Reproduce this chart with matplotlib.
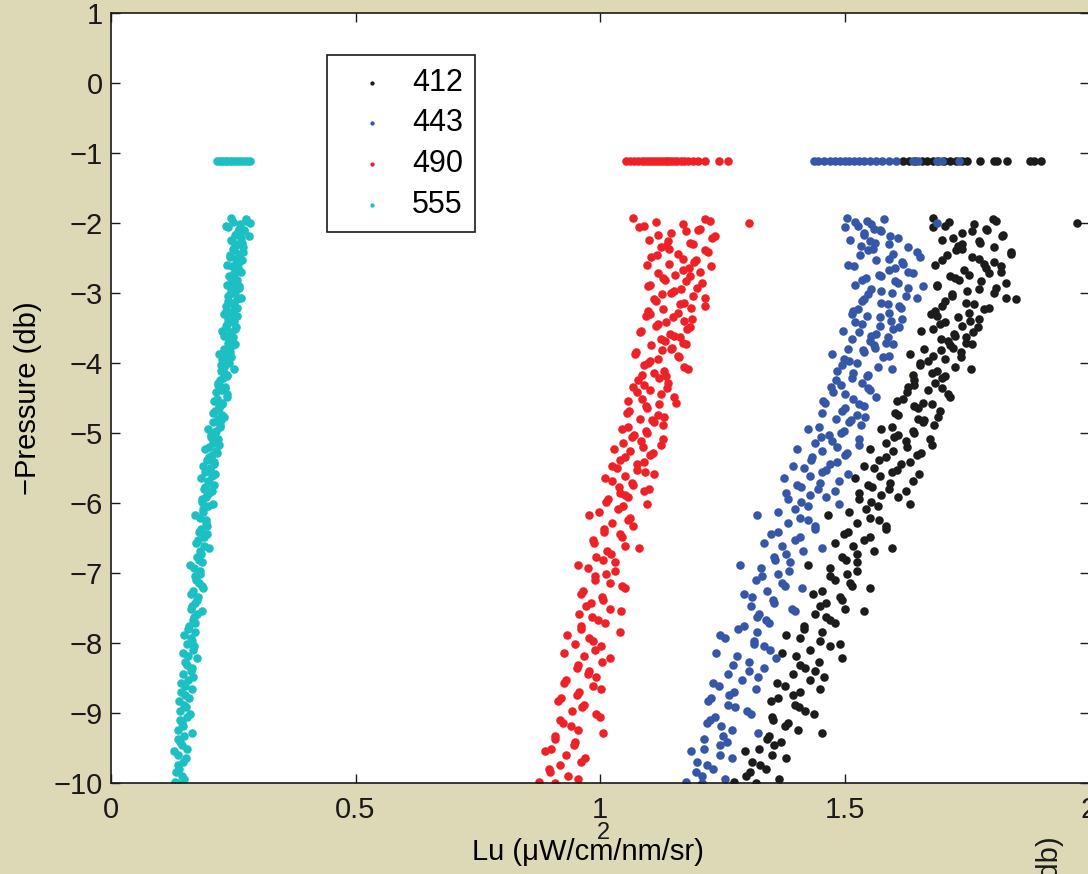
import matplotlib
matplotlib.use("Agg")
import matplotlib.pyplot as plt

plt.rcParams["font.family"] = ["Liberation Sans", "DejaVu Sans"]

# depths of the first profile pass (db, plotted as -pressure)
depth_a = [
    -1.93, -1.97, -2.00, -2.04, -2.08, -2.12, -2.17, -2.21, -2.26, -2.30,
    -2.35, -2.39, -2.44, -2.49, -2.53, -2.58, -2.62, -2.67, -2.72, -2.76,
    -2.81, -2.86, -2.90, -2.95, -3.00, -3.04, -3.09, -3.14, -3.18, -3.23,
    -3.28, -3.33, -3.37, -3.42, -3.47, -3.52, -3.56, -3.61, -3.66, -3.71,
    -3.75, -3.80, -3.85, -3.90, -3.95, -4.00, -4.06, -4.11, -4.17, -4.22,
    -4.28, -4.34, -4.39, -4.45, -4.51, -4.57, -4.62, -4.68, -4.74, -4.80,
    -4.85, -4.91, -4.97, -5.03, -5.09, -5.14, -5.20, -5.26, -5.32, -5.38,
    -5.44, -5.50, -5.56, -5.62, -5.68, -5.74, -5.80, -5.86, -5.92, -5.98,
    -6.05, -6.13, -6.21, -6.29, -6.37, -6.45, -6.53, -6.61, -6.69, -6.77,
    -6.85, -6.93, -7.01, -7.10, -7.18, -7.26, -7.34, -7.43, -7.51, -7.59,
    -7.67, -7.76, -7.84, -7.93, -8.01, -8.10, -8.18, -8.27, -8.36, -8.44,
    -8.53, -8.62, -8.70, -8.79, -8.88, -8.97, -9.06, -9.15, -9.24, -9.33,
    -9.42, -9.51, -9.60, -9.70, -9.80, -9.90, -9.98,
]
# depths of the second pass
depth_b = [
    -1.95, -1.99, -2.02, -2.06, -2.10, -2.15, -2.19, -2.24, -2.28, -2.33,
    -2.37, -2.42, -2.46, -2.51, -2.56, -2.60, -2.65, -2.70, -2.74, -2.79,
    -2.83, -2.88, -2.93, -2.97, -3.02, -3.07, -3.11, -3.16, -3.21, -3.26,
    -3.30, -3.35, -3.40, -3.44, -3.49, -3.54, -3.59, -3.63, -3.68, -3.73,
    -3.78, -3.82, -3.87, -3.92, -3.97, -4.03, -4.08, -4.14, -4.19, -4.25,
    -4.31, -4.36, -4.42, -4.48, -4.54, -4.59, -4.65, -4.71, -4.77, -4.82,
    -4.88, -4.94, -5.00, -5.06, -5.11, -5.17, -5.23, -5.29, -5.35, -5.41,
    -5.47, -5.53, -5.59, -5.65, -5.71, -5.77, -5.83, -5.89, -5.95, -6.01,
    -6.09, -6.17, -6.25, -6.33, -6.41, -6.49, -6.57, -6.65, -6.73, -6.81,
    -6.89, -6.97, -7.05, -7.14, -7.22, -7.30, -7.38, -7.47, -7.55, -7.63,
    -7.71, -7.80, -7.88, -7.97, -8.05, -8.14, -8.22, -8.31, -8.40, -8.48,
    -8.57, -8.66, -8.74, -8.83, -8.92, -9.01, -9.10, -9.19, -9.28, -9.37,
    -9.46, -9.55, -9.65, -9.75, -9.85, -9.94, -10.0,
]

lu_412_a = [
    1.680, 1.810, 1.975, 1.705, 1.790, 1.760, 1.825, 1.722, 1.775, 1.740,
    1.805, 1.728, 1.840, 1.760, 1.700, 1.785, 1.820, 1.745, 1.795, 1.715,
    1.735, 1.830, 1.690, 1.775, 1.805, 1.720, 1.850, 1.748, 1.700, 1.785,
    1.755, 1.690, 1.775, 1.705, 1.740, 1.680, 1.762, 1.725, 1.698, 1.748,
    1.715, 1.662, 1.738, 1.680, 1.705, 1.655, 1.725, 1.690, 1.640, 1.700,
    1.685, 1.630, 1.670, 1.712, 1.620, 1.660, 1.642, 1.695, 1.610, 1.650,
    1.660, 1.598, 1.640, 1.610, 1.675, 1.585, 1.628, 1.600, 1.648, 1.570,
    1.615, 1.560, 1.598, 1.572, 1.640, 1.548, 1.590, 1.530, 1.610, 1.555,
    1.568, 1.510, 1.552, 1.525, 1.585, 1.498, 1.540, 1.518, 1.560, 1.495,
    1.525, 1.470, 1.505, 1.480, 1.515, 1.455, 1.490, 1.462, 1.500, 1.440,
    1.470, 1.418, 1.455, 1.410, 1.490, 1.430, 1.400, 1.448, 1.420, 1.395,
    1.430, 1.378, 1.410, 1.365, 1.398, 1.420, 1.352, 1.385, 1.405, 1.345,
    1.370, 1.325, 1.352, 1.310, 1.340, 1.298, 1.275,
]
lu_412_b = [
    1.804, 1.714, 1.764, 1.682, 1.791, 1.741, 1.822, 1.700, 1.777, 1.732,
    1.740, 1.840, 1.710, 1.775, 1.805, 1.685, 1.790, 1.820, 1.755, 1.725,
    1.780, 1.690, 1.810, 1.750, 1.720, 1.830, 1.705, 1.765, 1.795, 1.685,
    1.676, 1.732, 1.756, 1.696, 1.772, 1.656, 1.724, 1.748, 1.712, 1.760,
    1.722, 1.698, 1.634, 1.738, 1.670, 1.654, 1.758, 1.678, 1.706, 1.642,
    1.643, 1.699, 1.627, 1.715, 1.607, 1.679, 1.651, 1.603, 1.691, 1.663,
    1.683, 1.575, 1.643, 1.602, 1.625, 1.679, 1.552, 1.656, 1.584, 1.634,
    1.539, 1.607, 1.652, 1.521, 1.594, 1.557, 1.625, 1.575, 1.530, 1.634,
    1.544, 1.467, 1.571, 1.585, 1.508, 1.553, 1.481, 1.598, 1.526, 1.503,
    1.426, 1.526, 1.471, 1.512, 1.553, 1.435, 1.494, 1.449, 1.539, 1.462,
    1.480, 1.417, 1.381, 1.449, 1.471, 1.372, 1.494, 1.408, 1.440, 1.458,
    1.362, 1.450, 1.394, 1.350, 1.406, 1.438, 1.354, 1.378, 1.454, 1.342,
    1.356, 1.297, 1.380, 1.328, 1.307, 1.366, 1.318,
]

lu_443_a = [
    1.506, 1.545, 1.690, 1.528, 1.560, 1.575, 1.540, 1.610, 1.552, 1.590,
    1.630, 1.548, 1.600, 1.655, 1.565, 1.620, 1.520, 1.590, 1.640, 1.575,
    1.535, 1.610, 1.660, 1.555, 1.598, 1.625, 1.540, 1.575, 1.612, 1.528,
    1.590, 1.545, 1.618, 1.522, 1.572, 1.600, 1.530, 1.555, 1.515, 1.585,
    1.560, 1.508, 1.540, 1.592, 1.498, 1.525, 1.568, 1.485, 1.548, 1.515,
    1.535, 1.472, 1.552, 1.500, 1.518, 1.460, 1.540, 1.495, 1.525, 1.482,
    1.510, 1.448, 1.498, 1.468, 1.530, 1.440, 1.485, 1.455, 1.502, 1.432,
    1.470, 1.418, 1.455, 1.430, 1.488, 1.402, 1.445, 1.380, 1.462, 1.412,
    1.425, 1.365, 1.408, 1.385, 1.440, 1.350, 1.398, 1.372, 1.415, 1.355,
    1.388, 1.330, 1.365, 1.318, 1.378, 1.342, 1.310, 1.355, 1.392, 1.325,
    1.340, 1.295, 1.322, 1.255, 1.315, 1.348, 1.280, 1.305, 1.335, 1.262,
    1.290, 1.243, 1.275, 1.228, 1.262, 1.300, 1.236, 1.218, 1.270, 1.252,
    1.260, 1.212, 1.245, 1.198, 1.232, 1.208, 1.176,
]
lu_443_b = [
    1.581, 1.521, 1.554, 1.500, 1.572, 1.539, 1.593, 1.512, 1.563, 1.533,
    1.558, 1.648, 1.531, 1.590, 1.617, 1.508, 1.603, 1.630, 1.571, 1.544,
    1.603, 1.521, 1.630, 1.575, 1.548, 1.648, 1.535, 1.589, 1.616, 1.517,
    1.516, 1.572, 1.596, 1.536, 1.612, 1.496, 1.564, 1.588, 1.552, 1.600,
    1.562, 1.538, 1.474, 1.578, 1.510, 1.494, 1.598, 1.518, 1.546, 1.482,
    1.493, 1.549, 1.477, 1.565, 1.457, 1.529, 1.501, 1.453, 1.541, 1.513,
    1.533, 1.425, 1.493, 1.452, 1.475, 1.529, 1.402, 1.506, 1.434, 1.484,
    1.394, 1.462, 1.507, 1.376, 1.449, 1.412, 1.480, 1.430, 1.385, 1.489,
    1.399, 1.322, 1.426, 1.440, 1.363, 1.408, 1.336, 1.453, 1.381, 1.358,
    1.286, 1.386, 1.331, 1.372, 1.413, 1.295, 1.354, 1.309, 1.399, 1.322,
    1.345, 1.282, 1.246, 1.314, 1.336, 1.237, 1.359, 1.273, 1.305, 1.323,
    1.232, 1.320, 1.264, 1.220, 1.276, 1.308, 1.224, 1.248, 1.324, 1.212,
    1.246, 1.187, 1.270, 1.218, 1.197, 1.256, 1.208,
]

lu_490_a = [
    1.068, 1.225, 1.305, 1.090, 1.205, 1.175, 1.118, 1.230, 1.140, 1.190,
    1.125, 1.215, 1.160, 1.105, 1.196, 1.142, 1.228, 1.170, 1.118, 1.185,
    1.132, 1.208, 1.098, 1.165, 1.145, 1.190, 1.110, 1.172, 1.215, 1.128,
    1.160, 1.095, 1.188, 1.135, 1.115, 1.178, 1.082, 1.152, 1.125, 1.170,
    1.105, 1.145, 1.074, 1.160, 1.118, 1.098, 1.172, 1.130, 1.085, 1.120,
    1.140, 1.068, 1.102, 1.125, 1.085, 1.155, 1.094, 1.060, 1.118, 1.082,
    1.110, 1.058, 1.095, 1.070, 1.128, 1.048, 1.088, 1.062, 1.102, 1.040,
    1.075, 1.035, 1.092, 1.052, 1.025, 1.068, 1.100, 1.040, 1.058, 1.012,
    1.048, 0.998, 1.062, 1.025, 1.008, 1.040, 0.985, 1.052, 1.015, 0.992,
    1.030, 0.975, 1.012, 0.990, 1.045, 0.965, 1.005, 0.982, 1.020, 0.958,
    0.995, 0.962, 1.040, 0.978, 0.948, 0.990, 0.968, 1.005, 0.952, 0.975,
    0.930, 0.985, 0.958, 0.920, 0.968, 0.942, 1.000, 0.925, 0.955, 0.908,
    0.948, 0.900, 0.930, 0.962, 0.895, 0.935, 0.875,
]
lu_490_b = [
    1.215, 1.115, 1.170, 1.080, 1.200, 1.145, 1.235, 1.100, 1.185, 1.135,
    1.141, 1.221, 1.117, 1.169, 1.193, 1.097, 1.181, 1.205, 1.153, 1.129,
    1.175, 1.103, 1.199, 1.151, 1.127, 1.215, 1.115, 1.163, 1.187, 1.099,
    1.102, 1.150, 1.172, 1.119, 1.185, 1.084, 1.143, 1.164, 1.133, 1.175,
    1.148, 1.127, 1.071, 1.162, 1.103, 1.089, 1.180, 1.110, 1.134, 1.078,
    1.090, 1.138, 1.076, 1.152, 1.058, 1.121, 1.097, 1.055, 1.131, 1.107,
    1.129, 1.045, 1.097, 1.066, 1.083, 1.125, 1.028, 1.108, 1.052, 1.090,
    1.024, 1.076, 1.111, 1.010, 1.065, 1.038, 1.090, 1.052, 1.017, 1.097,
    1.037, 0.978, 1.058, 1.068, 1.009, 1.044, 0.988, 1.079, 1.023, 1.006,
    0.955, 1.031, 0.990, 1.021, 1.052, 0.962, 1.007, 0.972, 1.042, 0.983,
    1.010, 0.961, 0.933, 0.985, 1.003, 0.926, 1.020, 0.954, 0.978, 0.992,
    0.926, 1.002, 0.953, 0.915, 0.964, 0.992, 0.919, 0.940, 1.006, 0.908,
    0.946, 0.887, 0.970, 0.918, 0.897, 0.956, 0.908,
]

lu_555_a = [
    0.245, 0.277, 0.284, 0.236, 0.262, 0.271, 0.253, 0.266, 0.248, 0.259,
    0.270, 0.251, 0.262, 0.244, 0.267, 0.255, 0.248, 0.260, 0.252, 0.241,
    0.258, 0.249, 0.262, 0.245, 0.253, 0.240, 0.257, 0.248, 0.236, 0.252,
    0.245, 0.258, 0.240, 0.249, 0.236, 0.253, 0.244, 0.232, 0.247, 0.239,
    0.250, 0.231, 0.243, 0.236, 0.228, 0.241, 0.232, 0.224, 0.238, 0.229,
    0.219, 0.233, 0.225, 0.237, 0.216, 0.228, 0.221, 0.212, 0.226, 0.218,
    0.209, 0.222, 0.214, 0.205, 0.219, 0.210, 0.201, 0.214, 0.206, 0.197,
    0.210, 0.202, 0.193, 0.207, 0.198, 0.211, 0.190, 0.201, 0.194, 0.186,
    0.198, 0.189, 0.181, 0.194, 0.185, 0.197, 0.178, 0.190, 0.183, 0.175,
    0.187, 0.170, 0.181, 0.174, 0.186, 0.167, 0.178, 0.171, 0.163, 0.176,
    0.168, 0.159, 0.172, 0.163, 0.155, 0.168, 0.158, 0.151, 0.165, 0.147,
    0.158, 0.151, 0.143, 0.160, 0.149, 0.141, 0.155, 0.146, 0.138, 0.150,
    0.141, 0.156, 0.136, 0.147, 0.139, 0.145, 0.131,
]
lu_555_b = [
    0.277, 0.249, 0.264, 0.239, 0.273, 0.257, 0.282, 0.245, 0.268, 0.254,
    0.249, 0.269, 0.243, 0.256, 0.262, 0.238, 0.259, 0.265, 0.252, 0.246,
    0.255, 0.237, 0.261, 0.249, 0.243, 0.265, 0.240, 0.252, 0.258, 0.236,
    0.232, 0.246, 0.252, 0.237, 0.256, 0.227, 0.244, 0.250, 0.241, 0.253,
    0.242, 0.236, 0.220, 0.246, 0.229, 0.225, 0.251, 0.231, 0.238, 0.222,
    0.219, 0.233, 0.215, 0.237, 0.210, 0.228, 0.221, 0.209, 0.231, 0.224,
    0.222, 0.198, 0.213, 0.204, 0.209, 0.221, 0.193, 0.216, 0.200, 0.211,
    0.188, 0.203, 0.213, 0.184, 0.200, 0.192, 0.207, 0.196, 0.186, 0.209,
    0.188, 0.171, 0.194, 0.197, 0.180, 0.190, 0.174, 0.200, 0.184, 0.179,
    0.161, 0.183, 0.171, 0.180, 0.189, 0.163, 0.176, 0.166, 0.186, 0.169,
    0.172, 0.158, 0.150, 0.165, 0.170, 0.148, 0.175, 0.156, 0.163, 0.167,
    0.143, 0.165, 0.151, 0.140, 0.154, 0.162, 0.141, 0.147, 0.166, 0.138,
    0.146, 0.129, 0.153, 0.138, 0.132, 0.149, 0.135,
]

# near-surface samples, all at the same depth
surf_depth = -1.12
surf_412 = [1.620, 1.632, 1.645, 1.658, 1.668, 1.680, 1.692, 1.704, 1.715, 1.728,
            1.740, 1.750, 1.777, 1.806, 1.812, 1.832, 1.880, 1.888, 1.902]
surf_443 = [1.437, 1.446, 1.458, 1.470, 1.480, 1.490, 1.500, 1.510, 1.520, 1.530,
            1.540, 1.552, 1.564, 1.576, 1.590, 1.605, 1.640, 1.650, 1.690, 1.700, 1.735]
surf_490 = [1.053, 1.062, 1.070, 1.078, 1.085, 1.092, 1.098, 1.104, 1.110, 1.116,
            1.122, 1.128, 1.134, 1.140, 1.146, 1.152, 1.158, 1.165, 1.172, 1.180,
            1.190, 1.200, 1.215, 1.244, 1.262]
surf_555 = [0.216, 0.222, 0.228, 0.233, 0.238, 0.243, 0.248, 0.254, 0.259, 0.265,
            0.272, 0.279, 0.285]

series = [
    ("412", lu_412_a + lu_412_b, surf_412, "#1c1c1c"),
    ("443", lu_443_a + lu_443_b, surf_443, "#3656a8"),
    ("490", lu_490_a + lu_490_b, surf_490, "#ee2126"),
    ("555", lu_555_a + lu_555_b, surf_555, "#1cbfc2"),
]
depth = depth_a + depth_b

fig = plt.figure(figsize=(10.88, 8.74), dpi=100, facecolor="#ddd8b6")
ax = fig.add_axes([111 / 1088, 91 / 874, 978 / 1088, 770 / 874])
ax.set_facecolor("white")

for name, xs, sx, color in series:
    ax.scatter(xs, depth, s=38, color=color, linewidths=0, label=name)
    ax.scatter(sx, [surf_depth] * len(sx), s=38, color=color, linewidths=0)

ax.set_xlim(0, 2)
ax.set_ylim(-10, 1)
ax.set_xticks([0, 0.5, 1, 1.5, 2])
ax.set_xticklabels(["0", "0.5", "1", "1.5", "2"])
ax.set_yticks(range(-10, 2))
ax.set_yticklabels([("\u2212%d" % -v) if v < 0 else str(v) for v in range(-10, 2)])
ax.tick_params(direction="in", length=6.5, width=1, labelsize=21,
               top=True, right=True, colors="#1a1a1a")
ax.tick_params(axis="x", pad=9)
ax.tick_params(axis="y", pad=6)
for sp in ax.spines.values():
    sp.set_linewidth(1.2)
    sp.set_color("#1a1a1a")

ax.set_ylabel("\u2212Pressure (db)", fontsize=21, labelpad=8)
ax.set_xlabel("Lu (\u03bcW/cm/nm/sr)", fontsize=21)
ax.xaxis.set_label_coords(0.488, -0.071)
fig.text(603 / 1088, 1 - 833 / 874, "2", fontsize=17, ha="center", va="center",
         color="#1a1a1a")

# clipped label from neighbouring panel
fig.text(1050 / 1088, 1 - 836 / 874, "\u2212Pressure (db)", fontsize=21,
         rotation=90, ha="center", va="top", color="#1a1a1a")

leg = ax.legend(loc="upper left", bbox_to_anchor=(0.221, 0.945), borderaxespad=0,
                fontsize=22, markerscale=0.5, handlelength=2.15, handletextpad=0.23,
                labelspacing=0.35, borderpad=0.4, fancybox=False, framealpha=1)
leg.get_frame().set_edgecolor("#1a1a1a")
leg.get_frame().set_linewidth(1.2)

fig.savefig("out.png", dpi=100, facecolor=fig.get_facecolor())
